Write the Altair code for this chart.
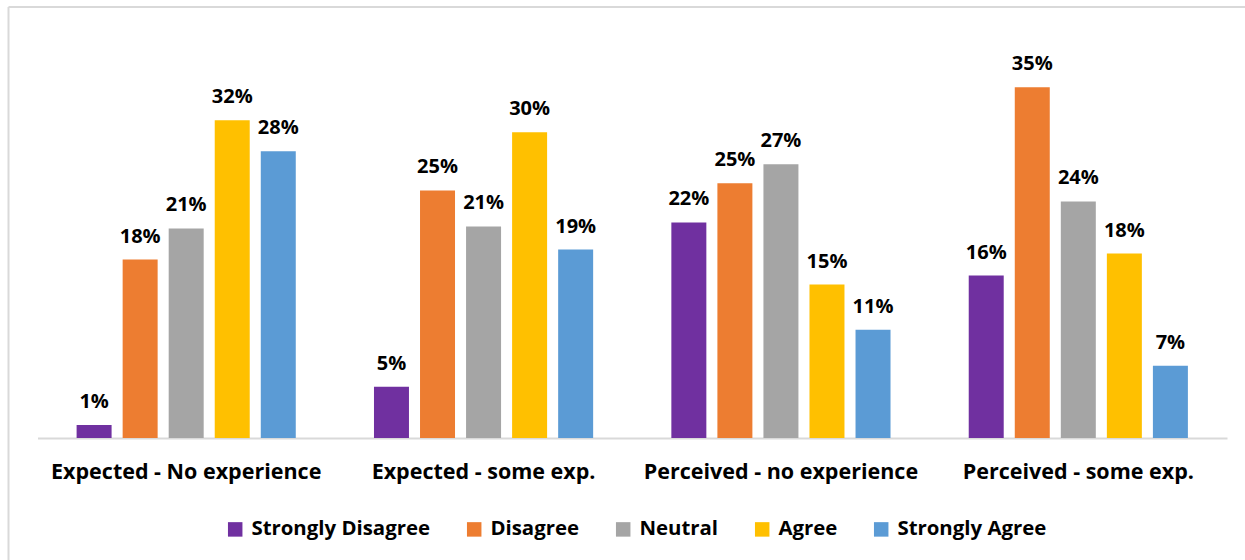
import altair as alt
import pandas as pd

categories = ["Expected - No experience", "Expected - some exp.",
              "Perceived - no experience", "Perceived - some exp."]
responses = ["Strongly Disagree", "Disagree", "Neutral", "Agree", "Strongly Agree"]
colors = ["#7030A0", "#ED7D31", "#A5A5A5", "#FFC000", "#5B9BD5"]

# bar heights (percent)
strongly_disagree = [1.3, 5.1, 21.5, 16.2]
disagree = [17.8, 24.7, 25.4, 35.0]
neutral = [20.9, 21.1, 27.3, 23.6]
agree = [31.7, 30.5, 15.3, 18.4]
strongly_agree = [28.6, 18.8, 10.8, 7.2]

# data labels as printed
lbl_strongly_disagree = ["1%", "5%", "22%", "16%"]
lbl_disagree = ["18%", "25%", "25%", "35%"]
lbl_neutral = ["21%", "21%", "27%", "24%"]
lbl_agree = ["32%", "30%", "15%", "18%"]
lbl_strongly_agree = ["28%", "19%", "11%", "7%"]

series = [strongly_disagree, disagree, neutral, agree, strongly_agree]
series_lbl = [lbl_strongly_disagree, lbl_disagree, lbl_neutral, lbl_agree, lbl_strongly_agree]

rows = []
for r, vals, lbls in zip(responses, series, series_lbl):
    for c, v, l in zip(categories, vals, lbls):
        rows.append({"category": c, "response": r, "value": v, "label": l})
df = pd.DataFrame(rows)

FONT = "Open Sans"
FS = 21.5
FS_LEG = 20.4
FS_LBL = 20
W, H = 1189.5, 401
PL, PT = 37.5, 37

x = alt.X("category:N", sort=categories,
          scale=alt.Scale(paddingInner=0.263, paddingOuter=0.1315),
          axis=alt.Axis(title=None, labelAngle=0, ticks=False, domainColor="#D9D9D9",
                        domainWidth=2, labelFont=FONT, labelFontSize=FS, labelLimit=0,
                        labelFontWeight="bold", labelColor="#000000", labelPadding=23))
xo = alt.XOffset("response:N", sort=responses,
                 scale=alt.Scale(paddingInner=0.24, paddingOuter=0))
y = alt.Y("value:Q", scale=alt.Scale(domain=[0, 40]), axis=None)

base = alt.Chart(df)
bars = base.mark_bar().encode(
    x=x, xOffset=xo, y=y,
    color=alt.Color("response:N", sort=responses,
                    scale=alt.Scale(domain=responses, range=colors),
                    legend=alt.Legend(orient="none", legendX=187.5, legendY=482,
                                      direction="horizontal", title=None,
                                      symbolType="square", symbolSize=210,
                                      symbolStrokeWidth=0, labelFont=FONT,
                                      labelFontSize=FS_LEG, labelFontWeight="bold",
                                      labelColor="#000000", labelOffset=6,
                                      labelLimit=0, columnPadding=33, padding=0)),
)
text = base.mark_text(baseline="alphabetic", dy=-17, font=FONT, fontSize=FS_LBL,
                      fontWeight="bold", color="#000000").encode(
    x=x, xOffset=xo, y=y, text="label:N")

one = pd.DataFrame({"a": [0]})
frame_top = alt.Chart(one).mark_rule(color="#D9D9D9", strokeWidth=2).encode(
    x=alt.value(-PL + 8.5), x2=alt.value(1245), y=alt.value(-PT + 7))
frame_left = alt.Chart(one).mark_rule(color="#D9D9D9", strokeWidth=2).encode(
    x=alt.value(-PL + 8.5), y=alt.value(-PT + 7), y2=alt.value(560))

chart = alt.layer(bars, text, frame_top, frame_left).properties(
    width=W, height=H,
    autosize=alt.AutoSizeParams(type="none"),
    padding={"left": PL, "top": PT, "right": 1245 - PL - W, "bottom": 560 - PT - H},
    background="white",
).configure_view(stroke=None)

chart.save("out.html", embed_options={"renderer": "svg", "actions": False})
